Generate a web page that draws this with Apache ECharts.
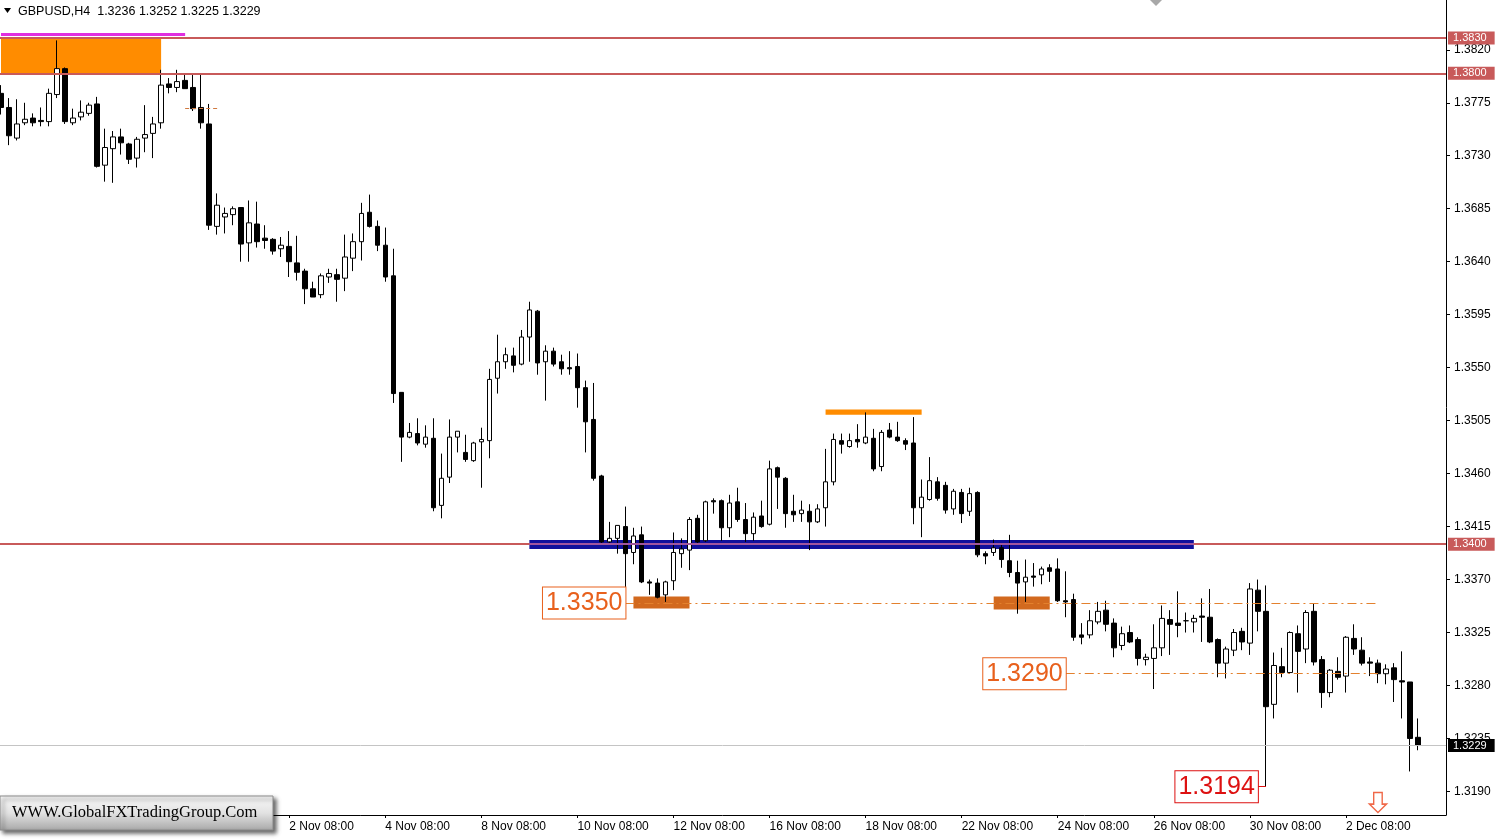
<!DOCTYPE html>
<html>
<head>
<meta charset="utf-8">
<script src="https://cdn.jsdelivr.net/npm/echarts@6/dist/echarts.min.js"></script>
<style>
html,body{margin:0;padding:0;background:#fff;}
#chart{width:1501px;height:839px;}
</style>
</head>
<body>
<div id="chart"></div>
<script>
// ---- categories (H4 bars, 6 per trading day, first bar 25 Oct 08:00) ----
const tradingDays = ['25 Oct','26 Oct','27 Oct','28 Oct','29 Oct','1 Nov','2 Nov','3 Nov','4 Nov','5 Nov',
  '8 Nov','9 Nov','10 Nov','11 Nov','12 Nov','15 Nov','16 Nov','17 Nov','18 Nov','19 Nov',
  '22 Nov','23 Nov','24 Nov','25 Nov','26 Nov','29 Nov','30 Nov','1 Dec','2 Dec','3 Dec'];
const barHours = ['00:00','04:00','08:00','12:00','16:00','20:00'];
const emptySlots = [' ', '  ', '   '];

// ---- OHLC values (GBPUSD H4) ----
const openP = [1.3783,1.3771,1.3745,1.3758,1.3762,1.3760,1.3759,1.3782,1.3804,1.3758,
1.3763,1.3766,1.3774,1.3722,1.3736,1.3746,1.3740,1.3728,1.3745,1.3749,
1.3758,1.3791,1.3788,1.3794,1.3788,1.3771,1.3757,1.3670,1.3678,1.3680,
1.3686,1.3656,1.3672,1.3660,1.3659,1.3651,1.3653,1.3639,1.3632,1.3617,
1.3612,1.3627,1.3629,1.3626,1.3643,1.3657,1.3682,1.3670,1.3654,1.3628,
1.3529,1.3491,1.3494,1.3485,1.3490,1.3433,1.3457,1.3491,1.3478,1.3471,
1.3487,1.3488,1.3541,1.3555,1.3560,1.3553,1.3576,1.3598,1.3555,1.3564,
1.3555,1.3550,1.3551,1.3533,1.3506,1.3458,1.3402,1.3405,1.3415,1.3393,
1.3408,1.3368,1.3367,1.3357,1.3369,1.3392,1.3395,1.3422,1.3403,1.3437,
1.3437,1.3414,1.3436,1.3421,1.3409,1.3424,1.3417,1.3465,1.3456,1.3428,
1.3426,1.3428,1.3419,1.3431,1.3453,1.3488,1.3483,1.3489,1.3486,1.3490,
1.3466,1.3497,1.3491,1.3488,1.3486,1.3431,1.3438,1.3453,1.3450,1.3430,
1.3444,1.3428,1.3444,1.3392,1.3393,1.3397,1.3386,1.3376,1.3368,1.3373,
1.3374,1.3380,1.3379,1.3352,1.3353,1.3323,1.3323,1.3334,1.3344,1.3333,
1.3314,1.3325,1.3319,1.3302,1.3303,1.3312,1.3336,1.3333,1.3335,1.3334,
1.3339,1.3338,1.3319,1.3299,1.3310,1.3326,1.3316,1.3361,1.3343,1.3264,
1.3296,1.3291,1.3324,1.3311,1.3343,1.3302,1.3274,1.3292,1.3288,1.3320,
1.3310,1.3300,1.3299,1.3290,1.3295,1.3284,1.3283,1.3236];

const highP = [1.3790,1.3779,1.3778,1.3775,1.3766,1.3771,1.3787,1.3828,1.3805,1.3770,
1.3777,1.3775,1.3780,1.3753,1.3751,1.3753,1.3741,1.3746,1.3773,1.3763,
1.3803,1.3796,1.3803,1.3799,1.3799,1.3799,1.3774,1.3698,1.3686,1.3687,
1.3686,1.3692,1.3691,1.3671,1.3660,1.3661,1.3666,1.3662,1.3634,1.3623,
1.3630,1.3634,1.3634,1.3663,1.3664,1.3690,1.3697,1.3675,1.3669,1.3651,
1.3529,1.3503,1.3507,1.3501,1.3507,1.3477,1.3506,1.3496,1.3493,1.3487,
1.3499,1.3549,1.3578,1.3567,1.3567,1.3582,1.3606,1.3599,1.3569,1.3567,
1.3561,1.3564,1.3562,1.3539,1.3537,1.3459,1.3419,1.3416,1.3432,1.3414,
1.3415,1.3370,1.3371,1.3369,1.3410,1.3405,1.3423,1.3425,1.3437,1.3439,
1.3438,1.3442,1.3448,1.3435,1.3427,1.3437,1.3471,1.3466,1.3457,1.3442,
1.3437,1.3434,1.3434,1.3481,1.3494,1.3494,1.3494,1.3502,1.3512,1.3498,
1.3497,1.3503,1.3504,1.3490,1.3508,1.3455,1.3474,1.3457,1.3453,1.3447,
1.3447,1.3448,1.3445,1.3394,1.3404,1.3400,1.3408,1.3386,1.3387,1.3384,
1.3381,1.3383,1.3388,1.3377,1.3358,1.3333,1.3344,1.3351,1.3352,1.3337,
1.3330,1.3331,1.3321,1.3307,1.3332,1.3348,1.3344,1.3360,1.3342,1.3340,
1.3354,1.3362,1.3320,1.3313,1.3328,1.3329,1.3367,1.3370,1.3365,1.3308,
1.3312,1.3326,1.3331,1.3344,1.3350,1.3305,1.3294,1.3304,1.3322,1.3332,
1.3321,1.3304,1.3302,1.3298,1.3299,1.3309,1.3283,1.3252];

const lowP = [1.3765,1.3739,1.3743,1.3756,1.3755,1.3755,1.3755,1.3779,1.3757,1.3756,
1.3760,1.3764,1.3720,1.3708,1.3707,1.3731,1.3723,1.3720,1.3733,1.3728,
1.3753,1.3783,1.3784,1.3787,1.3768,1.3753,1.3667,1.3663,1.3664,1.3671,
1.3640,1.3640,1.3652,1.3651,1.3646,1.3644,1.3627,1.3624,1.3604,1.3610,
1.3609,1.3622,1.3606,1.3615,1.3632,1.3641,1.3669,1.3649,1.3623,1.3520,
1.3470,1.3490,1.3484,1.3482,1.3428,1.3422,1.3452,1.3478,1.3470,1.3470,
1.3448,1.3473,1.3528,1.3549,1.3546,1.3552,1.3555,1.3544,1.3522,1.3551,
1.3544,1.3544,1.3516,1.3478,1.3454,1.3401,1.3401,1.3392,1.3363,1.3383,
1.3367,1.3357,1.3354,1.3351,1.3361,1.3380,1.3378,1.3401,1.3402,1.3426,
1.3403,1.3406,1.3419,1.3402,1.3403,1.3414,1.3416,1.3430,1.3414,1.3419,
1.3419,1.3395,1.3418,1.3415,1.3450,1.3477,1.3482,1.3482,1.3485,1.3462,
1.3462,1.3490,1.3487,1.3480,1.3417,1.3406,1.3437,1.3437,1.3426,1.3425,
1.3418,1.3424,1.3389,1.3383,1.3390,1.3380,1.3372,1.3341,1.3351,1.3364,
1.3366,1.3368,1.3351,1.3338,1.3318,1.3315,1.3320,1.3332,1.3326,1.3304,
1.3310,1.3316,1.3297,1.3297,1.3277,1.3305,1.3306,1.3321,1.3325,1.3325,
1.3317,1.3316,1.3287,1.3286,1.3305,1.3310,1.3306,1.3326,1.3194,1.3252,
1.3287,1.3290,1.3274,1.3299,1.3297,1.3261,1.3270,1.3285,1.3274,1.3306,
1.3297,1.3288,1.3282,1.3281,1.3266,1.3252,1.3207,1.3225];

const closeP = [1.3771,1.3747,1.3757,1.3761,1.3758,1.3759,1.3783,1.3804,1.3759,1.3762,
1.3767,1.3773,1.3721,1.3737,1.3746,1.3741,1.3727,1.3744,1.3748,1.3757,
1.3790,1.3788,1.3793,1.3787,1.3770,1.3758,1.3671,1.3688,1.3681,1.3685,
1.3655,1.3673,1.3657,1.3658,1.3649,1.3654,1.3640,1.3631,1.3617,1.3610,
1.3628,1.3630,1.3625,1.3644,1.3657,1.3681,1.3670,1.3654,1.3627,1.3528,
1.3491,1.3495,1.3486,1.3491,1.3431,1.3456,1.3491,1.3496,1.3472,1.3486,
1.3489,1.3540,1.3555,1.3561,1.3552,1.3576,1.3599,1.3554,1.3564,1.3553,
1.3549,1.3549,1.3533,1.3504,1.3456,1.3402,1.3405,1.3416,1.3392,1.3407,
1.3368,1.3367,1.3355,1.3368,1.3393,1.3396,1.3421,1.3402,1.3436,1.3436,
1.3414,1.3435,1.3421,1.3409,1.3423,1.3415,1.3464,1.3457,1.3426,1.3425,
1.3429,1.3419,1.3430,1.3453,1.3489,1.3485,1.3488,1.3487,1.3491,1.3464,
1.3495,1.3491,1.3488,1.3485,1.3431,1.3440,1.3454,1.3439,1.3429,1.3445,
1.3426,1.3443,1.3391,1.3390,1.3397,1.3387,1.3376,1.3367,1.3372,1.3372,
1.3379,1.3377,1.3352,1.3351,1.3321,1.3321,1.3335,1.3343,1.3332,1.3312,
1.3324,1.3317,1.3303,1.3304,1.3312,1.3337,1.3332,1.3331,1.3335,1.3337,
1.3338,1.3317,1.3299,1.3311,1.3325,1.3317,1.3362,1.3343,1.3262,1.3297,
1.3291,1.3325,1.3309,1.3342,1.3300,1.3274,1.3293,1.3287,1.3321,1.3311,
1.3299,1.3299,1.3290,1.3294,1.3285,1.3283,1.3235,1.3229];

// ---- axis ticks ----
const yTicks = [1.3190,1.3235,1.3280,1.3325,1.3370,1.3415,1.3460,1.3505,1.3550,1.3595,1.3640,1.3685,1.3730,1.3775,1.3820];
const Y_MIN = 1.31700, Y_MAX = 1.38623;

// ---- key levels / annotations ----
const levelLines = [1.3830, 1.3800, 1.3400];
const currentPrice = 1.3229;
const supportLevel = 1.3350, supportLabel = '1.3350';
const lowerLevel = 1.3290, lowerLabel = '1.3290';
const swingLow = 1.3194, swingLowLabel = '1.3194';
const symbolTitle = 'GBPUSD,H4';

// build category list
const categories = [];
tradingDays.forEach(d => barHours.forEach(h => categories.push(d + ' ' + h)));
categories.splice(0, 2);
const nBars = openP.length;
const allCats = categories.slice(0, nBars).concat(emptySlots);

const candleData = openP.map((o, i) => [o, closeP[i], lowP[i], highP[i]]);

const RED = '#C85A5A';
const DASH = '#E3812E';
const TAG_FONT = 'Liberation Sans';
const showIdx = (i) => i % 12 === 0 && i < nBars;

function priceTag(v, bg) {
  return {show:true, position:'end', distance:2, formatter: v.toFixed(4),
    backgroundColor: bg, color:'#fff', fontSize:11, fontFamily:TAG_FONT,
    padding:[1,8,0,5], lineHeight:12};
}
function boxLabel(text, color) {
  return {show:true, position:'start', distance:0, formatter:text,
    color: color, fontSize:25, fontFamily:'Liberation Sans', backgroundColor:'#fff',
    borderColor: color, borderWidth:1, padding:[2,3,1,3], lineHeight:28};
}

const chart = echarts.init(document.getElementById('chart'), null, {renderer:'canvas'});
const option = {
  animation:false,
  backgroundColor:'#ffffff',
  grid:{left:-3, right:55, top:0, bottom:24, outerBoundsMode:'none', containLabel:false},
  xAxis:{
    type:'category', data:allCats, boundaryGap:true,
    axisLine:{show:true, lineStyle:{color:'#000', width:1}},
    axisTick:{show:true, interval:showIdx, alignWithLabel:true, length:3, lineStyle:{color:'#000'}},
    axisLabel:{interval:showIdx, align:'left', margin:6, fontSize:12, color:'#000', fontFamily:'Liberation Sans'},
    splitLine:{show:false}
  },
  yAxis:{
    type:'value', position:'right', min:Y_MIN, max:Y_MAX, scale:true,
    axisLine:{show:true, lineStyle:{color:'#000', width:1}},
    axisTick:{show:true, customValues:yTicks, length:4, lineStyle:{color:'#000'}},
    axisLabel:{customValues:yTicks, formatter:(v)=>Number(v).toFixed(4), margin:8, fontSize:12, color:'#000', fontFamily:'Liberation Sans'},
    splitLine:{show:false}
  },
  series:[
    {
      name:'zones', type:'line', data:[], z:1, silent:true,
      markArea:{silent:true, data:[
        [{coord:[0, levelLines[0]], itemStyle:{color:'#FF8C00'}}, {coord:[20, levelLines[1]]}],
        [{coord:[103, 1.35145], itemStyle:{color:'#FF8C00'}}, {coord:[115, 1.35100]}],
        [{coord:[79, 1.33557], itemStyle:{color:'#D2691E'}}, {coord:[86, 1.33455]}],
        [{coord:[124, 1.33557], itemStyle:{color:'#D2691E'}}, {coord:[131, 1.33445]}],
        [{coord:[66, 1.34036], itemStyle:{color:'#10109C'}}, {coord:[149, 1.33960]}]
      ]}
    },
    {
      name:'GBPUSD', type:'candlestick', data:candleData, z:2, barWidth:5,
      itemStyle:{color:'#ffffff', color0:'#000000', borderColor:'#000000', borderColor0:'#000000', borderWidth:1}
    },
    {
      name:'marks', type:'line', data:[], z:5, silent:true,
      markLine:{silent:true, precision:6, symbol:['none','none'], animation:false, data:[
        {yAxis:levelLines[0], lineStyle:{color:RED, width:2, type:'solid'}, label:priceTag(levelLines[0], RED)},
        {yAxis:levelLines[1], lineStyle:{color:RED, width:2, type:'solid'}, label:priceTag(levelLines[1], RED)},
        {yAxis:levelLines[2], lineStyle:{color:RED, width:2, type:'solid'}, label:priceTag(levelLines[2], RED)},
        [{coord:[66, levelLines[2]], lineStyle:{color:'#A0559E', width:2, type:'solid'}, label:{show:false}}, {coord:[149, levelLines[2]]}],
        {yAxis:currentPrice, lineStyle:{color:'#C4C4C4', width:1, type:'solid'}, label:priceTag(currentPrice, '#000')},
        [{coord:[0, 1.38335], lineStyle:{color:'#E02EE0', width:3, type:'solid'}, label:{show:false}}, {coord:[23, 1.38335]}],
        [{coord:[23, 1.3770], lineStyle:{color:'#D07A40', width:1, type:[4,3]}, label:{show:false}}, {coord:[27, 1.3770]}],
        [{coord:[78, supportLevel], lineStyle:{color:DASH, width:1.2, type:[9,4,2,4]}, label:boxLabel(supportLabel, '#E8601C')}, {coord:[172, supportLevel]}],
        [{coord:[133, lowerLevel], lineStyle:{color:DASH, width:1.2, type:[9,4,2,4]}, label:boxLabel(lowerLabel, '#E8601C')}, {coord:[172, lowerLevel]}],
        [{coord:[157, swingLow], lineStyle:{color:'#DD1111', width:1, type:'solid'}, label:boxLabel(swingLowLabel, '#DD1111')}, {coord:[158, swingLow]}]
      ]},
      markPoint:{silent:true, animation:false, data:[
        {coord:[172, 1.31806], symbol:'path://M3,0 L9,0 L9,11 L12,11 L6,19 L0,11 L3,11 Z', symbolSize:[17,20],
         itemStyle:{color:'#ffffff', borderColor:'#F06848', borderWidth:1.5}, label:{show:false}}
      ]}
    }
  ],
  graphic:[
    {type:'polygon', z:50, shape:{points:[[4,8],[11,8],[7.5,13]]}, style:{fill:'#000'}},
    {type:'text', z:50, x:18, y:12, style:{text: symbolTitle + '  ' + [openP[nBars-1], highP[nBars-1], lowP[nBars-1], closeP[nBars-1]].map(v=>v.toFixed(4)).join(' '),
      font:'12.5px "Liberation Sans"', fill:'#000', verticalAlign:'middle'}},
    {type:'polygon', z:50, shape:{points:[[1150,0],[1162,0],[1156,6]]}, style:{fill:'#A8A8A8'}},
    {type:'rect', z:100, shape:{x:0, y:796, width:273, height:34},
      style:{fill:new echarts.graphic.LinearGradient(0,0,0,1,[{offset:0,color:'#FAFAFA'},{offset:0.5,color:'#E2E2E2'},{offset:1,color:'#A8A8A8'}]),
        stroke:'#8A8A8A', lineWidth:1, shadowBlur:4, shadowOffsetX:3, shadowOffsetY:3, shadowColor:'rgba(0,0,0,0.6)'}},
    {type:'text', z:101, x:12, y:813, style:{text:'WWW.GlobalFXTradingGroup.Com', font:'16.5px "Liberation Serif"', fill:'#000', verticalAlign:'middle'}}
  ]
};
chart.setOption(option);
</script>
</body>
</html>
